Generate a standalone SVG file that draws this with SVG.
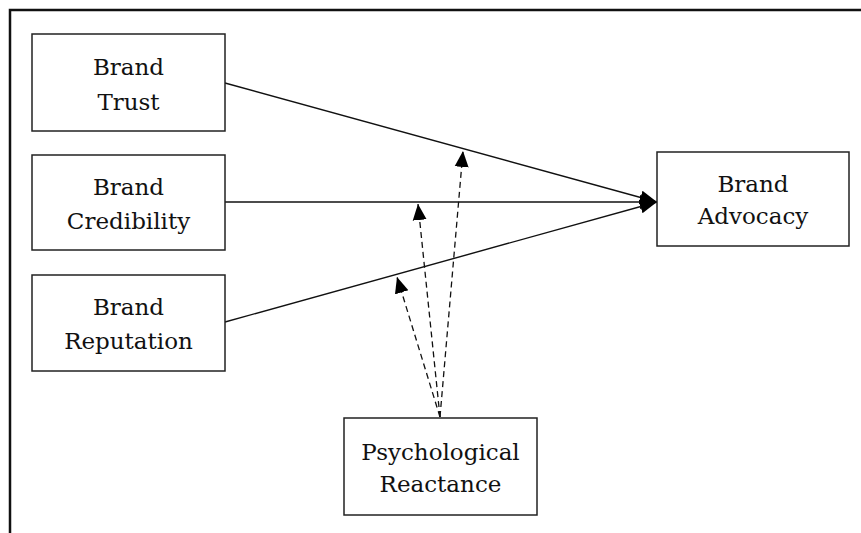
<svg xmlns="http://www.w3.org/2000/svg" width="861" height="533" viewBox="0 0 861 533">
<defs>
<style>
.box{fill:#fff;stroke:#222;stroke-width:1.5}
.t{font-family:"DejaVu Serif","Liberation Serif",serif;font-size:23px;fill:#111;text-anchor:middle}
.solid{stroke:#111;stroke-width:1.4;fill:none}
.dash{stroke:#111;stroke-width:1.3;fill:none;stroke-dasharray:6 4}
</style>
<marker id="ah" markerUnits="userSpaceOnUse" markerWidth="18" markerHeight="16" viewBox="0 0 18 16" refX="17" refY="8" orient="auto"><path d="M0,1 L17,8 L0,15 Z" fill="#000"/></marker>
<marker id="ahd" markerUnits="userSpaceOnUse" markerWidth="17" markerHeight="16" viewBox="0 0 17 16" refX="16" refY="8" orient="auto"><path d="M0,1 L16,8 L0,15 Z" fill="#000"/></marker>
</defs>
<rect width="861" height="533" fill="#fff"/>
<path d="M10,533 L10,10 L861,10" fill="none" stroke="#111" stroke-width="2.5"/>
<g id="connectors">
<line class="solid" x1="225" y1="83" x2="657" y2="202" marker-end="url(#ah)"/>
<line class="solid" x1="225" y1="202" x2="657" y2="202" marker-end="url(#ah)"/>
<line class="solid" x1="225" y1="322" x2="657" y2="202" marker-end="url(#ah)"/>
<line class="dash" x1="440" y1="417" x2="463" y2="151" marker-end="url(#ahd)"/>
<line class="dash" x1="440" y1="417" x2="418" y2="204" marker-end="url(#ahd)"/>
<line class="dash" x1="440" y1="417" x2="397" y2="277" marker-end="url(#ahd)"/>
</g>
<g id="brand-trust"><rect class="box" x="32" y="34" width="193" height="97"/><text class="t" x="128.5" y="75">Brand</text><text class="t" x="128.5" y="110">Trust</text></g>
<g id="brand-credibility"><rect class="box" x="32" y="155" width="193" height="95"/><text class="t" x="128.5" y="195">Brand</text><text class="t" x="128.5" y="229">Credibility</text></g>
<g id="brand-reputation"><rect class="box" x="32" y="275" width="193" height="96"/><text class="t" x="128.5" y="315">Brand</text><text class="t" x="128.5" y="349">Reputation</text></g>
<g id="brand-advocacy"><rect class="box" x="657" y="152" width="192" height="94"/><text class="t" x="753" y="192">Brand</text><text class="t" x="753" y="224">Advocacy</text></g>
<g id="psychological-reactance"><rect class="box" x="344" y="418" width="193" height="97"/><text class="t" x="440.5" y="460">Psychological</text><text class="t" x="440.5" y="492">Reactance</text></g>
</svg>
